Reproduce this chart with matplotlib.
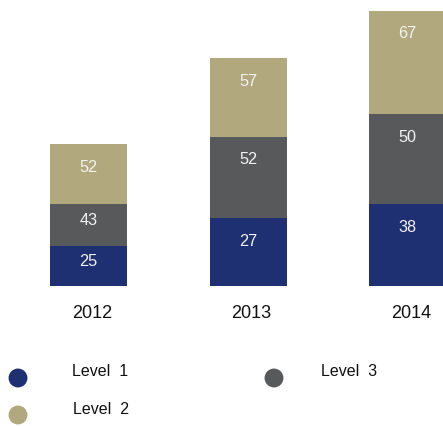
import matplotlib.pyplot as plt
from matplotlib.transforms import ScaledTranslation

# data
years = ['2012', '2013', '2014']
level1 = [25, 27, 38]
level3 = [43, 52, 50]
level2 = [52, 57, 67]
# segment heights as drawn (chart scale, not proportional to labels)
h_level1 = [40, 68, 82]
h_level3 = [42, 81, 90]
h_level2 = [60, 79, 103]

c1 = '#1e2f72'
c3 = '#58595b'
c2 = '#b2a87e'

plt.rcParams['font.family'] = ['Liberation Sans', 'DejaVu Sans']

fig = plt.figure(figsize=(4.43, 4.26), dpi=100)
ax = fig.add_axes([0, (426 - 286) / 426, 1, 286 / 426])

x = list(range(len(years)))
w = 77 / 159.5
bottoms3 = h_level1
bottoms2 = [a + b for a, b in zip(h_level1, h_level3)]

ax.bar(x, h_level1, width=w, color=c1)
ax.bar(x, h_level3, width=w, bottom=bottoms3, color=c3)
ax.bar(x, h_level2, width=w, bottom=bottoms2, color=c2)

def put_labels(vals, heights, bottoms):
    for i, (v, h, b) in enumerate(zip(vals, heights, bottoms)):
        top = b + h
        ax.text(i, top - min(23, h * 0.4), str(v), ha='center', va='center',
                color='#f2f2f2', fontsize=11.7)

put_labels(level1, h_level1, [0, 0, 0])
put_labels(level3, h_level3, bottoms3)
put_labels(level2, h_level2, bottoms2)

ax.set_xlim(-88.5 / 159.5, (443 - 88.5) / 159.5)
ax.set_ylim(0, 286)
ax.set_xticks(x)
ax.set_xticklabels(years, fontsize=13, color='#111111')
ax.tick_params(length=0, pad=14)
shift = ScaledTranslation(3.5 / 100, 0, fig.dpi_scale_trans)
for lab in ax.get_xticklabels():
    lab.set_transform(lab.get_transform() + shift)
ax.set_yticks([])
for s in ax.spines.values():
    s.set_visible(False)

# legend drawn in pixel coordinates
lg = fig.add_axes([0, 0, 1, 1], facecolor='none')
lg.set_xlim(0, 443)
lg.set_ylim(426, 0)
lg.axis('off')
lg.scatter([18, 18, 274], [378, 415, 378], s=185, c=[c1, c2, c3], linewidths=0)
lg.text(72, 371, 'Level  1', fontsize=11.5, va='center', color='#111111')
lg.text(73, 410, 'Level  2', fontsize=11.5, va='center', color='#111111')
lg.text(321, 371, 'Level  3', fontsize=11.5, va='center', color='#111111')

fig.savefig('out.png', dpi=100)
